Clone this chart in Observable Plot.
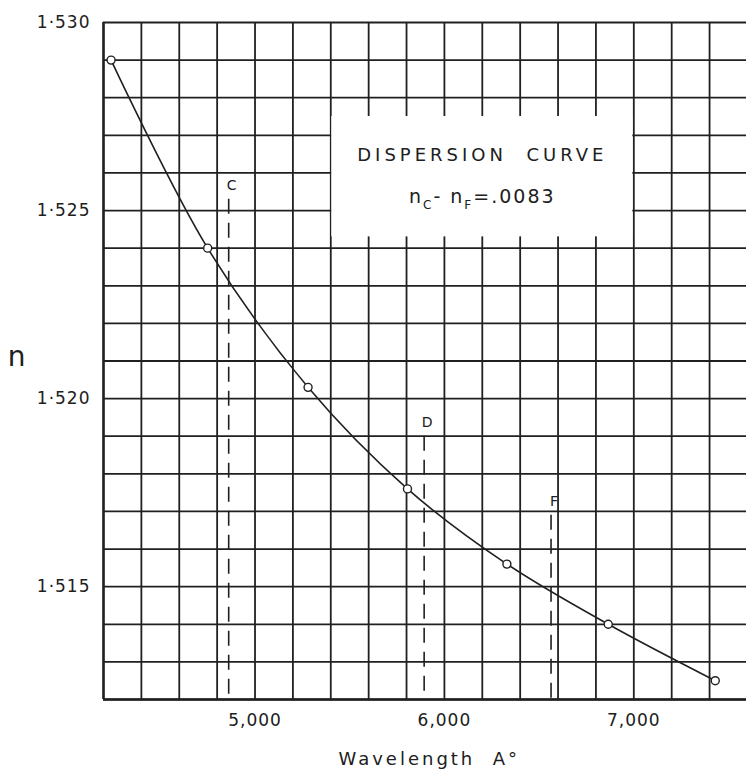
<!DOCTYPE html>
<html>
<head>
<meta charset="utf-8">
<script src="https://cdn.jsdelivr.net/npm/d3@7"></script>
<script src="https://cdn.jsdelivr.net/npm/@observablehq/plot@0.6"></script>
<style>
  html, body { margin: 0; padding: 0; background: #fff; }
  svg { display: block; }
</style>
</head>
<body>
<div id="chart"></div>
<script>
// Measured points of the dispersion curve
const wavelengths = [4240, 4750, 5280, 5805, 6330, 6865, 7430];
const indices     = [1.5290, 1.5240, 1.5203, 1.5176, 1.5156, 1.5140, 1.5125];

// Spectral reference lines (as labelled on the chart)
const lineNames       = ["C", "D", "F"];
const lineWavelengths = [4861, 5893, 6563];
const lineTopIndex    = [1.5253, 1.5190, 1.5169];

// Axis ticks
const xTicks      = [5000, 6000, 7000];
const xTickLabels = ["5,000", "6,000", "7,000"];
const yTicks      = [1.515, 1.520, 1.525, 1.530];
const yTickLabels = ["1·515", "1·520", "1·525", "1·530"];

// Graph-paper grid
const xGrid = [4200,4400,4600,4800,5000,5200,5400,5600,5800,6000,6200,6400,6600,6800,7000,7200,7400];
const yGrid = [1.512,1.513,1.514,1.515,1.516,1.517,1.518,1.519,1.520,1.521,1.522,1.523,1.524,1.525,1.526,1.527,1.528,1.529,1.530];

// Annotation box
const boxWavelengths = [5400, 7000];
const boxIndices     = [1.5243, 1.5275];
const titleText   = "DISPERSION  CURVE";
const formulaText = "nC- nF=.0083";
const xLabelText  = "Wavelength  A°";
const yLabelText  = "n";
const titleAt   = [6200, 1.52646];
const formulaAt = [6200, 1.52535];

const points = wavelengths.map((w, i) => ({w, n: indices[i]}));
const lines = lineNames.map((name, i) => ({name, w: lineWavelengths[i], top: lineTopIndex[i]}));

const ink = "#202020";
const font = "'DejaVu Sans', sans-serif";

const plot = Plot.plot({
  width: 746,
  height: 769,
  marginLeft: 103,
  marginRight: 0,
  marginTop: 22,
  marginBottom: 70,
  style: {fontFamily: font, background: "#fff"},
  x: {domain: [4200, 7595]},
  y: {domain: [1.512, 1.530]},
  marks: [
    Plot.ruleX(xGrid, {stroke: ink, strokeWidth: 1.8}),
    Plot.ruleY(yGrid, {stroke: ink, strokeWidth: 1.8}),
    Plot.ruleX([4200], {stroke: ink, strokeWidth: 2.4}),
    Plot.ruleY([1.512], {stroke: ink, strokeWidth: 2.4}),
    Plot.rect([{x1: boxWavelengths[0], x2: boxWavelengths[1], y1: boxIndices[0], y2: boxIndices[1]}],
      {x1: "x1", x2: "x2", y1: "y1", y2: "y2", fill: "#fff", insetLeft: 1, insetRight: 1}),
    Plot.ruleX(lines, {x: "w", y1: "top", y2: 1.512, stroke: ink, strokeWidth: 1.6, strokeDasharray: "15,9"}),
    Plot.text(lines, {x: "w", y: "top", text: "name", dy: -14, dx: 3, fontSize: 14, fill: ink}),
    Plot.line(points, {x: "w", y: "n", curve: "catmull-rom", stroke: ink, strokeWidth: 1.6}),
    Plot.dot(points, {x: "w", y: "n", r: 4, fill: "#fff", stroke: ink, strokeWidth: 1.4}),
    Plot.text([titleText], {x: titleAt[0], y: titleAt[1], text: d => d, fontSize: 18, fill: ink}),
    Plot.text([formulaText], {x: formulaAt[0], y: formulaAt[1], text: d => d, fontSize: 19, fill: ink}),
    Plot.axisY({ticks: yTicks, tickFormat: d => yTickLabels[yTicks.indexOf(d)], tickSize: 0, tickPadding: 13, fontSize: 17, color: ink, label: null}),
    Plot.axisX({ticks: xTicks, tickFormat: d => xTickLabels[xTicks.indexOf(d)], tickSize: 0, tickPadding: 14, fontSize: 17, color: ink, label: null}),
    Plot.text([xLabelText], {x: 5920, y: 1.512, text: d => d, dy: 60, fontSize: 18, fill: ink}),
    Plot.text([yLabelText], {x: 4200, y: 1.5211, text: d => d, dx: -87, fontSize: 28, fill: ink})
  ]
});

document.getElementById("chart").appendChild(plot);

// Letter spacing to imitate the wide lettering of the original
const spacing = new Map([[titleText, 4], [formulaText, 2], [xLabelText, 3]]);
yTickLabels.forEach(s => spacing.set(s, 1));
xTickLabels.forEach(s => spacing.set(s, 1));
d3.select(plot).selectAll("text").each(function() {
  const ls = spacing.get(this.textContent);
  if (ls) this.setAttribute("letter-spacing", ls);
});

// Turn the formula into real sub-scripted text
d3.select(plot).selectAll("text").filter(function() { return this.textContent === formulaText; })
  .each(function() {
    const t = d3.select(this);
    t.text(null);
    t.append("tspan").text("n");
    t.append("tspan").text("C").attr("font-size", 12).attr("dy", 6);
    t.append("tspan").text("- n").attr("dy", -6);
    t.append("tspan").text("F").attr("font-size", 12).attr("dy", 6);
    t.append("tspan").text("=.0083").attr("dy", -6);
  });
</script>
</body>
</html>
